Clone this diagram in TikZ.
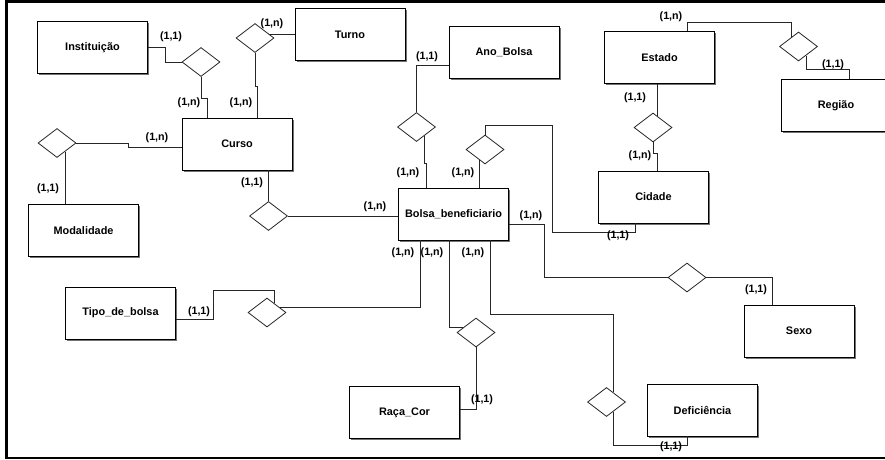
\documentclass[tikz,border=0pt]{standalone}
\usepackage{fontspec}
\setmainfont{Liberation Sans}
\usetikzlibrary{shapes.geometric,shadows,calc}

\tikzset{
  entity/.style={draw=black, line width=0.9pt, fill=white, rectangle,
    minimum width=110pt, minimum height=52pt, inner sep=0pt,
    drop shadow={shadow xshift=1.6pt, shadow yshift=-1.6pt, fill=black!55, opacity=1}},
  rel/.style={draw=black!85, line width=0.8pt, fill=white, diamond,
    minimum width=38pt, minimum height=29pt, inner sep=0pt},
  card/.style={inner sep=0pt, font=\bfseries\fontsize{10.7}{12}\selectfont},
  link/.style={draw=black!85, line width=0.8pt},
}

\begin{document}
\begin{tikzpicture}[x=1pt, y=-1pt, font=\bfseries\fontsize{10.9}{12}\selectfont]
\useasboundingbox (0,0) rectangle (885,459);
\clip (0,0) rectangle (885,459);

% frame
\draw[line width=2.6pt, black] (885,1.3) -- (6.2,1.3) -- (6.2,458) -- (885,458);

% entities
\node[entity] (inst)   at (92.5,47.5)  {Instituição};
\node[entity] (turno)  at (350,34.5)   {Turno};
\node[entity] (ano)    at (504,52)     {Ano\_Bolsa};
\node[entity] (estado) at (659.5,57.5) {Estado};
\node[entity] (regiao) at (836,105.5)  {Região};
\node[entity] (curso)  at (237,144)    {Curso};
\node[entity] (modal)  at (83.5,230.5) {Modalidade};
\node[entity] (bolsa)  at (453.5,214)  {Bolsa\_beneficiario};
\node[entity] (cidade) at (653.5,197)  {Cidade};
\node[entity] (sexo)   at (799,331)    {Sexo};
\node[entity] (tipo)   at (120.5,313)  {Tipo\_de\_bolsa};
\node[entity] (raca)   at (404.5,412.5){Raça\_Cor};
\node[entity] (defic)  at (702.5,410)  {Deficiência};

% relationships
\node[rel] (dinst)  at (201,62)      {};
\node[rel] (dturno) at (255,38)      {};
\node[rel] (dmodal) at (57,143)      {};
\node[rel] (dano)   at (416.5,127)   {};
\node[rel] (dcid)   at (485,149.5)   {};
\node[rel] (dreg)   at (798.5,46.5)  {};
\node[rel] (dest)   at (653,127.5)   {};
\node[rel] (dcurso) at (268.5,216)   {};
\node[rel] (dsexo)  at (687,277.5)   {};
\node[rel] (dtipo)  at (267,312.5)   {};
\node[rel] (draca)  at (476,332.5)   {};
\node[rel] (ddef)   at (606.5,402)   {};

% connectors
\draw[link] (inst.east) -- ++(17,0) |- (dinst.west);
\draw[link] (dinst.south) -- ++(0,21) -| ($(curso.north)+(-30,0)$);

\draw[link] (turno.west) -- ([xshift=-5pt]dturno.east |- turno.west);
\draw[link] (dturno.south) -- ++(0,33) -| ($(curso.north)+(20,0)$);

\draw[link] (dmodal.east) -- ++(52,0) |- ($(curso.west)+(0,3)$);
\draw[link] (dmodal.-46) -- (dmodal.-46 |- modal.north);

\draw[link] (dcurso.north |- curso.south) -- (dcurso.north);
\draw[link] (dcurso.east) -- (dcurso.east -| bolsa.west);

\draw[link] ($(ano.west)+(0,13)$) -| (dano.north);
\draw[link] (dano.-50) -- ++(0,27) -| ($(bolsa.north)+(-27.5,0)$);

\draw[link] (dcid.north) -- ++(0,-9) -- ++(67,0) |- ($(cidade.south)+(-18.5,9)$) -- ($(cidade.south)+(-18.5,0)$);
\draw[link] (dcid.-115) -- (dcid.-115 |- bolsa.north);

\draw[link] ($(estado.north)+(27.5,0)$) -- ++(0,-9) -| (dreg.124);
\draw[link] (dreg.-50) -- ++(0,14) -| ($(regiao.north)+(13,0)$);

\draw[link] (dest.71 |- estado.south) -- (dest.71);
\draw[link] (dest.south) -- ++(0,11) -| ($(cidade.north)+(3.5,0)$);

\draw[link] ($(bolsa.east)+(0,10)$) -- ++(35,0) |- (dsexo.west);
\draw[link] (dsexo.east) -| ($(sexo.north)+(-27,0)$);

\draw[link] ($(bolsa.south)+(-33.5,0)$) |- (dtipo.19);
\draw[link] ($(tipo.east)+(0,6)$) -- ++(37,0) |- ($(dtipo.53)+(0,-13)$) -- (dtipo.53);

\draw[link] ($(bolsa.south)+(-4.5,0)$) |- (draca.161);
\draw[link] (draca.south) |- ($(raca.east)+(0,-3.5)$);

\draw[link] ($(bolsa.south)+(36.5,0)$) -- ++(0,74) -| (ddef.56);
\draw[link] (ddef.-56) -- ++(0,33.5) -| ($(defic.south)+(-15.5,0)$);

% cardinalities
\node[card] (c1)  at (171,37)  {(1,1)};
\node[card] (c2)  at (189,103) {(1,n)};
\node[card] (c3)  at (272,24)  {(1,n)};
\node[card] (c4)  at (241,103) {(1,n)};
\node[card] (c5)  at (157,138) {(1,n)};
\node[card] (c6)  at (48,189)  {(1,1)};
\node[card] (c7)  at (252,183) {(1,1)};
\node[card] (c8)  at (375,207) {(1,n)};
\node[card] (c9)  at (427,57)  {(1,1)};
\node[card] (c10) at (408,173) {(1,n)};
\node[card] (c11) at (463,173) {(1,n)};
\node[card] (c12) at (618,236) {(1,1)};
\node[card] (c13) at (671,17)  {(1,n)};
\node[card] (c14) at (833,65)  {(1,1)};
\node[card] (c15) at (635,98)  {(1,1)};
\node[card] (c16) at (640,156) {(1,n)};
\node[card] (c17) at (531,216) {(1,n)};
\node[card] (c18) at (756,290) {(1,1)};
\node[card] (c19) at (403,253) {(1,n)};
\node[card] (c20) at (199,312) {(1,1)};
\node[card] (c21) at (432,253) {(1,n)};
\node[card] (c22) at (482,400) {(1,1)};
\node[card] (c23) at (473,253) {(1,n)};
\node[card] (c24) at (671,447) {(1,1)};
\end{tikzpicture}
\end{document}
